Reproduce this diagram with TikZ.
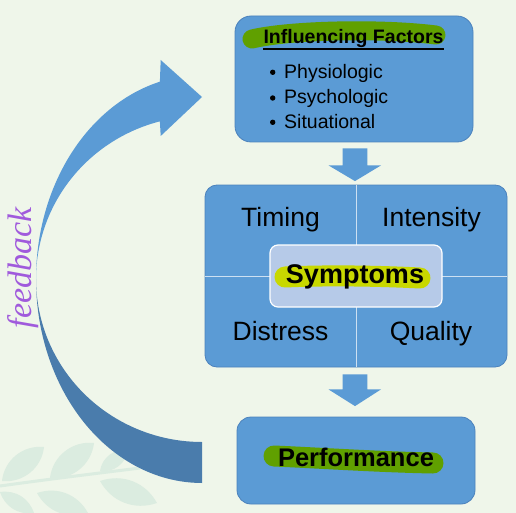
\documentclass[tikz,border=0pt]{standalone}
\usepackage{fontspec}
\setmainfont{Liberation Sans}
\newfontfamily\handfont{Liberation Serif}
\usetikzlibrary{calc}
\definecolor{bgc}{RGB}{239,246,234}
\definecolor{leafc}{RGB}{219,236,224}
\definecolor{boxblue}{RGB}{91,155,213}
\definecolor{boxedge}{RGB}{76,130,188}
\definecolor{darkband}{RGB}{74,124,172}
\definecolor{lightbox}{RGB}{182,202,232}
\definecolor{divc}{RGB}{205,224,242}
\definecolor{hlgreen}{RGB}{96,160,0}
\definecolor{hlyellow}{RGB}{200,216,0}
\definecolor{penc}{RGB}{160,90,220}
\begin{document}
\begin{tikzpicture}[x=1pt,y=-1pt,
  box/.style={draw=boxedge, line width=0.8pt, fill=boxblue, rounded corners=#1, inner sep=0pt},
  box/.default=14pt,
  txt/.style={inner sep=0pt, text=black},
  small/.style={txt, font=\fontsize{19.5}{20}\selectfont},
  big/.style={txt, font=\fontsize{26.5}{27}\selectfont},
  divider/.style={draw=divc, line width=1pt},
  hl/.style={line width=#1, line cap=round, line join=round},
  dot/.style={circle, fill=black, minimum size=5.4pt, inner sep=0pt},
  blockarrow/.style={fill=boxblue},
  leafshape/.style={fill=leafc}
]
% background
\fill[bgc] (0,0) rectangle (516,513);
\useasboundingbox (0,0) rectangle (516,513);

% faint leaves
\draw[leafc, line width=3pt] (0,486) .. controls (50,479) and (100,473) .. (140,468);
\fill[leafshape] (2,481) to[bend left=45] (44,447) to[bend left=45] (2,481);
\fill[leafshape] (50,478) to[bend left=45] (94,443) to[bend left=45] (50,478);
\fill[leafshape] (100,471) to[bend left=45] (128,450) to[bend left=45] (100,471);
\fill[leafshape] (0,492) to[bend left=40] (34,513) to[bend left=40] (0,492);
\fill[leafshape] (37,493) to[bend left=40] (88,513) to[bend left=40] (37,493);
\fill[leafshape] (100,481) to[bend left=40] (157,503) to[bend left=40] (100,481);

% curved feedback arrow: dark lower band
\fill[darkband] plot[domain=180:90,samples=50] ({202+166*cos(\x)},{279+204*sin(\x)})
  -- plot[domain=90:180,samples=50] ({202+166*cos(\x)},{279+163*sin(\x)}) -- cycle;
% curved feedback arrow: upper part with head
\fill[boxblue] plot[domain=180:255.3,samples=50] ({202+166*cos(\x)},{279+204*sin(\x)})
  -- (160.7,60) -- (202,97) -- (160.7,136)
  -- plot[domain=255.3:180,samples=50] ({202+166*cos(\x)},{279+163*sin(\x)}) -- cycle;

% boxes
\node[box=16pt, minimum width=238pt, minimum height=126pt] (inf) at (354,79) {};
\node[box=12pt, minimum width=302pt, minimum height=182pt] (mid) at (356,276) {};
\draw[divider] (mid.north) -- (mid.south);
\draw[divider] (mid.west) -- (mid.east);
\node[draw=white, line width=1.2pt, fill=lightbox, rounded corners=8pt,
      minimum width=172pt, minimum height=62pt, inner sep=0pt] (sym) at (356,276) {};
\node[box=14pt, minimum width=238pt, minimum height=87pt] (perf) at (356,460.5) {};

% block arrows between boxes
\coordinate (a1) at ($(inf.south)+(1,6)$);
\fill[blockarrow] ($(a1)+(-12.3,0)$) -- ($(a1)+(12.3,0)$) -- ($(a1)+(12.3,17)$) -- ($(a1)+(26,17)$)
  -- ($(mid.north)+(-1,-3.5)$) -- ($(a1)+(-26.5,17)$) -- ($(a1)+(-12.3,17)$) -- cycle;
\coordinate (a2) at ($(mid.south)+(-1,7)$);
\fill[blockarrow] ($(a2)+(-12.3,0)$) -- ($(a2)+(12.3,0)$) -- ($(a2)+(12.3,15)$) -- ($(a2)+(26,15)$)
  -- ($(perf.north)+(-1,-10.5)$) -- ($(a2)+(-26.5,15)$) -- ($(a2)+(-12.3,15)$) -- cycle;

% highlights
\draw[hlgreen, hl=19pt] (252,39) .. controls (290,30) and (380,28) .. (436,35);
\draw[hlyellow, hl=21pt] (285,277) .. controls (330,275) and (380,276) .. (420,278);
\draw[hlgreen, hl=21pt] (274,456) .. controls (320,458) and (380,462) .. (433,463);

% texts
\node[txt, anchor=base, font=\bfseries\fontsize{19.5}{20}\selectfont] (title) at (353.5,44) {Influencing Factors};
\draw[line width=1.6pt] ([yshift=-5pt]title.base west) -- ([yshift=-5pt]title.base east);
\node[dot] (d1) at (272.7,72.3) {};
\node[dot] (d2) at (272.7,98) {};
\node[dot] (d3) at (272.7,122.3) {};
\node[small, anchor=base west] (p1) at (284,78.3) {Physiologic};
\node[small, anchor=base west] (p2) at (284,104) {Psychologic};
\node[small, anchor=base west] (p3) at (284,128.3) {Situational};

\node[big, anchor=base] (timing) at (280.5,226.7) {Timing};
\node[big, anchor=base] (intensity) at (431.5,226.7) {Intensity};
\node[big, anchor=base] (distress) at (280.5,340.7) {Distress};
\node[big, anchor=base] (quality) at (431,340.7) {Quality};
\node[txt, anchor=base, font=\bfseries\fontsize{27}{28}\selectfont] (symt) at (355,283) {Symptoms};
\node[txt, anchor=base, font=\bfseries\fontsize{25.5}{26}\selectfont] (perft) at (356,466) {Performance};

% handwritten label
\node[inner sep=0pt, rotate=90, text=penc, font=\handfont\itshape\fontsize{34}{34}\selectfont] (fb) at (23,268) {feedback};
\end{tikzpicture}
\end{document}
